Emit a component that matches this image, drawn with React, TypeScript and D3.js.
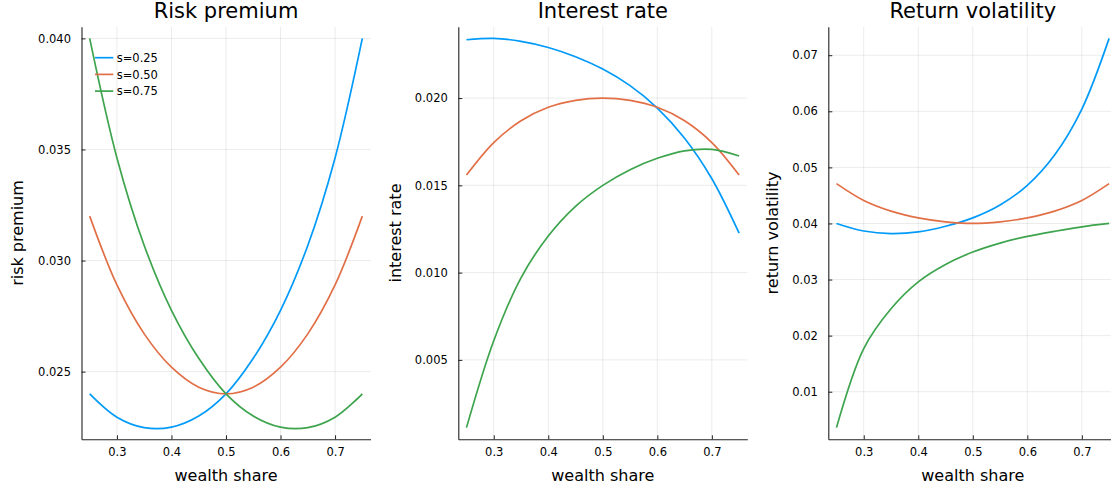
import { useEffect, useRef } from "react";
import * as d3 from "d3";

// wealth share grid shared by every panel
const wealthShare = [0.25, 0.3, 0.35, 0.4, 0.45, 0.5, 0.55, 0.6, 0.65, 0.7, 0.75];
const seriesNames = ["s=0.25", "s=0.50", "s=0.75"];
const seriesColors = ["#009af9", "#e26f46", "#3da44d"];
const xTickValues = [0.3, 0.4, 0.5, 0.6, 0.7];

const riskPremium25 = [0.024, 0.02295, 0.02248, 0.0225, 0.023, 0.024, 0.0256, 0.02776, 0.03068, 0.03462, 0.04];
const riskPremium50 = [0.032, 0.0289, 0.0267, 0.0252, 0.0243, 0.024, 0.0243, 0.0252, 0.0267, 0.0289, 0.032];
const riskPremium75 = [0.04, 0.03462, 0.03068, 0.02776, 0.0256, 0.024, 0.023, 0.0225, 0.02248, 0.02295, 0.024];

const interestRate25 = [0.02334, 0.02342, 0.02325, 0.0229, 0.02237, 0.02166, 0.02071, 0.01943, 0.0177, 0.01538, 0.01226];
const interestRate50 = [0.01559, 0.01745, 0.0187, 0.01947, 0.01987, 0.02, 0.01987, 0.01947, 0.0187, 0.01745, 0.01559];
const interestRate75 = [0.00112, 0.0061, 0.0097, 0.0121, 0.0138, 0.015, 0.0159, 0.01655, 0.01698, 0.01706, 0.01668];

const returnVol25 = [0.04, 0.03865, 0.0382, 0.0385, 0.0395, 0.041, 0.0433, 0.0468, 0.0522, 0.0604, 0.073];
const returnVol50 = [0.0471, 0.0441, 0.0422, 0.041, 0.0403, 0.04, 0.0403, 0.041, 0.0422, 0.0441, 0.0471];
const returnVol75 = [0.0036, 0.0177, 0.0248, 0.0296, 0.0327, 0.0349, 0.0365, 0.0377, 0.0386, 0.0394, 0.04];

const riskPremiumTicks = [0.025, 0.03, 0.035, 0.04];
const interestRateTicks = [0.005, 0.01, 0.015, 0.02];
const returnVolTicks = [0.01, 0.02, 0.03, 0.04, 0.05, 0.06, 0.07];

const FONT = "DejaVu Sans, sans-serif";

const panels = [
  { title: "Risk premium", yLabel: "risk premium", series: [riskPremium25, riskPremium50, riskPremium75], ticks: riskPremiumTicks, fmt: ".3f", left: 81.5, labelGap: 59, legend: true },
  { title: "Interest rate", yLabel: "interest rate", series: [interestRate25, interestRate50, interestRate75], ticks: interestRateTicks, fmt: ".3f", left: 458.3, labelGap: 57, legend: false },
  { title: "Return volatility", yLabel: "return volatility", series: [returnVol25, returnVol50, returnVol75], ticks: returnVolTicks, fmt: ".2f", left: 828.3, labelGap: 50.5, legend: false },
];

const App = () => {
  const svgRef = useRef<SVGSVGElement>(null);

  useEffect(() => {
    const svg = d3.select(svgRef.current);
    svg.selectAll("*").remove();

    const top = 26.7;
    const bottom = 439.3;
    const plotWidth = 289;

    panels.forEach((p) => {
      const g = svg.append("g");

      // Plots.jl style 3% padding around the data extent
      const xPad = 0.03 * (0.75 - 0.25);
      const x = d3.scaleLinear().domain([0.25 - xPad, 0.75 + xPad]).range([p.left, p.left + plotWidth]);
      const allVals = p.series.flat();
      const [lo, hi] = d3.extent(allVals) as [number, number];
      const yPad = 0.03 * (hi - lo);
      const y = d3.scaleLinear().domain([lo - yPad, hi + yPad]).range([bottom, top]);

      // grid
      g.append("g")
        .selectAll("line")
        .data(xTickValues)
        .enter()
        .append("line")
        .attr("x1", (d) => x(d))
        .attr("x2", (d) => x(d))
        .attr("y1", top)
        .attr("y2", bottom)
        .attr("stroke", "#000")
        .attr("stroke-opacity", 0.1)
        .attr("stroke-width", 0.8);
      g.append("g")
        .selectAll("line")
        .data(p.ticks)
        .enter()
        .append("line")
        .attr("x1", p.left)
        .attr("x2", p.left + plotWidth)
        .attr("y1", (d) => y(d))
        .attr("y2", (d) => y(d))
        .attr("stroke", "#000")
        .attr("stroke-opacity", 0.1)
        .attr("stroke-width", 0.8);

      // axes
      const xAxis = g
        .append("g")
        .attr("transform", `translate(0,${bottom})`)
        .call(
          d3.axisBottom(x).tickValues(xTickValues).tickFormat(d3.format(".1f")).tickSizeInner(-4).tickSizeOuter(0).tickPadding(9)
        );
      const yAxis = g
        .append("g")
        .attr("transform", `translate(${p.left},0)`)
        .call(
          d3.axisLeft(y).tickValues(p.ticks).tickFormat(d3.format(p.fmt)).tickSizeInner(-4).tickSizeOuter(0).tickPadding(10.5)
        );
      [xAxis, yAxis].forEach((a) => {
        a.attr("font-family", FONT).attr("font-size", 11.5).attr("color", "#000");
        a.select(".domain").attr("stroke", "#222").attr("stroke-width", 1.1);
        a.selectAll(".tick line").attr("stroke", "#222");
        a.selectAll(".tick text").attr("fill", "#000");
      });

      // lines
      const line = d3
        .line<number>()
        .x((_, i) => x(wealthShare[i]))
        .y((d) => y(d))
        .curve(d3.curveCatmullRom.alpha(0.5));
      p.series.forEach((vals, i) => {
        g.append("path")
          .attr("d", line(vals))
          .attr("fill", "none")
          .attr("stroke", seriesColors[i])
          .attr("stroke-width", 1.7);
      });

      // titles and labels
      const cx = p.left + plotWidth / 2;
      g.append("text")
        .attr("x", cx)
        .attr("y", 18.3)
        .attr("text-anchor", "middle")
        .attr("font-family", FONT)
        .attr("font-size", 21)
        .text(p.title);
      g.append("text")
        .attr("x", cx)
        .attr("y", 480.5)
        .attr("text-anchor", "middle")
        .attr("font-family", FONT)
        .attr("font-size", 16)
        .text("wealth share");
      g.append("text")
        .attr("transform", `translate(${p.left - p.labelGap},${(top + bottom) / 2}) rotate(-90)`)
        .attr("text-anchor", "middle")
        .attr("font-family", FONT)
        .attr("font-size", 16)
        .text(p.yLabel);

      if (p.legend) {
        const leg = g.append("g");
        seriesNames.forEach((name, i) => {
          const ly = 57.7 + i * 16.7;
          leg.append("line")
            .attr("x1", 95)
            .attr("x2", 113.3)
            .attr("y1", ly)
            .attr("y2", ly)
            .attr("stroke", seriesColors[i])
            .attr("stroke-width", 1.7);
          leg.append("text")
            .attr("x", 116.7)
            .attr("y", ly + 4.2)
            .attr("font-family", FONT)
            .attr("font-size", 11.5)
            .text(name);
        });
      }
    });
  }, []);

  return (
    <svg
      ref={svgRef}
      width={1111}
      height={490}
      style={{ position: "absolute", left: 0, top: 0, background: "#fff" }}
    ></svg>
  );
};

export default App;
